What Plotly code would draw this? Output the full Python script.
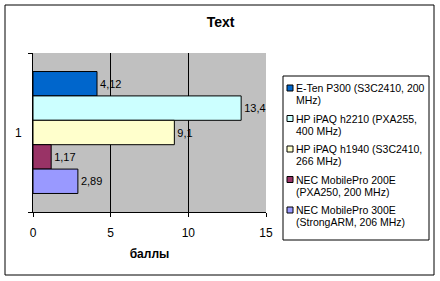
import plotly.graph_objects as go

# ---- data ----
category = ["1"]
series_names = [
    "E-Ten P300 (S3C2410, 200 MHz)",
    "HP iPAQ h2210 (PXA255, 400 MHz)",
    "HP iPAQ h1940 (S3C2410, 266 MHz)",
    "NEC MobilePro 200E (PXA250, 200 MHz)",
    "NEC MobilePro 300E (StrongARM, 206 MHz)",
]
legend_lines = [
    ("E-Ten P300 (S3C2410, 200", "MHz)"),
    ("HP iPAQ h2210 (PXA255,", "400 MHz)"),
    ("HP iPAQ h1940 (S3C2410,", "266 MHz)"),
    ("NEC MobilePro 200E", "(PXA250, 200 MHz)"),
    ("NEC MobilePro 300E", "(StrongARM, 206 MHz)"),
]
values = [4.12, 13.4, 9.1, 1.17, 2.89]
value_labels = ["4,12", "13,4", "9,1", "1,17", "2,89"]
colors = ["#0066CC", "#CCFFFF", "#FFFFCC", "#993366", "#9999FF"]
x_ticks = [0, 5, 10, 15]

FONT = "Arial, Liberation Sans, sans-serif"

# plot area in pixels
L, R, T, B = 33, 266, 53, 212
W, H = 440, 281


def px(x):
    return (x - L) / (R - L)


def py(y):
    return (B - y) / (B - T)


fig = go.Figure()
for name, v, lab, c in zip(series_names, values, value_labels, colors):
    fig.add_trace(go.Bar(
        y=category, x=[v], orientation="h", name=name,
        marker=dict(color=c, line=dict(color="black", width=1)),
        text=[lab], textposition="outside", cliponaxis=False,
        textfont=dict(family=FONT, size=11, color="black"),
        showlegend=False,
    ))

shapes = []
annotations = []
# outer border
shapes.append(dict(type="rect", xref="paper", yref="paper",
                   x0=px(5), x1=px(434), y0=py(275), y1=py(5),
                   line=dict(color="black", width=1), layer="below"))
# legend box
shapes.append(dict(type="rect", xref="paper", yref="paper",
                   x0=px(283), x1=px(429), y0=py(240), y1=py(76),
                   line=dict(color="black", width=1), fillcolor="white"))
for i, ((l1, l2), c) in enumerate(zip(legend_lines, colors)):
    yc = 88 + i * 30.5
    shapes.append(dict(type="rect", xref="paper", yref="paper",
                       x0=px(287), x1=px(293), y0=py(yc + 3), y1=py(yc - 3),
                       line=dict(color="black", width=1), fillcolor=c))
    for j, t in enumerate((l1, l2)):
        annotations.append(dict(text=t, xref="paper", yref="paper",
                                x=px(294), y=py(yc + j * 12), xanchor="left",
                                yanchor="middle", showarrow=False,
                                font=dict(family=FONT, size=10.5, color="black")))

fig.update_layout(
    width=W, height=H,
    margin=dict(l=L, r=W - R, t=T, b=H - B),
    paper_bgcolor="white", plot_bgcolor="#C0C0C0",
    barmode="group", bargap=0.233, bargroupgap=0,
    title=dict(text="<b>Text</b>", x=220.5 / W, xref="container", xanchor="center",
               y=1 - 22 / H, yref="container", yanchor="middle",
               font=dict(family=FONT, size=14, color="black")),
    xaxis=dict(range=[0, 15], tickvals=x_ticks, ticks="outside", ticklen=4,
               tickcolor="black", showgrid=True, gridcolor="black", gridwidth=1,
               showline=True, linecolor="black", linewidth=1, zeroline=False,
               ticklabelstandoff=6,
               tickfont=dict(family=FONT, size=12, color="black"),
               title=dict(text="<b>баллы</b>", standoff=10,
                          font=dict(family=FONT, size=12, color="black"))),
    yaxis=dict(type="category", range=[0.5, -0.5], ticks="outside", ticklen=4,
               tickson="boundaries", tickcolor="black", showgrid=False,
               showline=True, linecolor="black", linewidth=1,
               ticklabelstandoff=8,
               tickfont=dict(family=FONT, size=12, color="black")),
    shapes=shapes, annotations=annotations, showlegend=False,
)

fig.write_html("out.html")
